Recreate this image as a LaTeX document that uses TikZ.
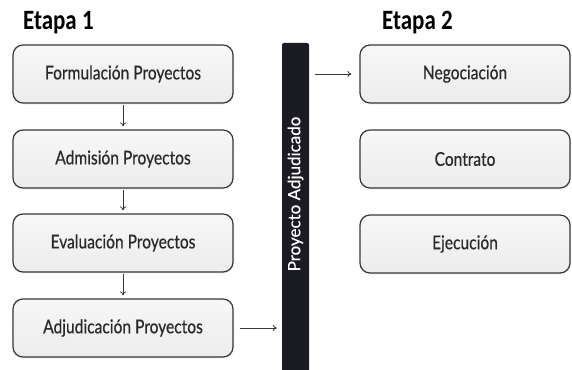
\documentclass[tikz,border=0pt]{standalone}
\usepackage{fontspec}
\setmainfont{Lato}
\newfontfamily\boxfont[FakeStretch=0.82,FakeBold=0.5]{Lato}
\newfontfamily\barfont[FakeBold=0.3]{Lato}
\newfontfamily\etapafont[FakeStretch=0.82]{Carlito}
\usetikzlibrary{arrows.meta,shadows}
\definecolor{boxline}{HTML}{383838}
\definecolor{boxfill}{HTML}{ECECED}
\definecolor{barfill}{HTML}{1B1B24}
\definecolor{txt}{HTML}{2A2A2A}
\tikzset{
  stagebox/.style={draw=boxline,line width=1.2pt,rounded corners=10pt,
    top color=white!60!boxfill,bottom color=boxfill,
    drop shadow={opacity=0.12,shadow xshift=1pt,shadow yshift=-1.5pt},
    minimum height=58pt,text=txt,font=\boxfont\fontsize{19}{22}\selectfont},
  link/.style={draw=boxline,line width=0.8pt,-{To[length=4pt,width=6pt]}},
  etapa/.style={font=\etapafont\bfseries\fontsize{28}{32}\selectfont,text=black,
    inner sep=0pt,anchor=base west}
}
\begin{document}
\begin{tikzpicture}[x=1pt,y=-1pt]
  \useasboundingbox (0,0) rectangle (572,369);
  \fill[white] (0,0) rectangle (572,369);
  \node[etapa] (e1) at (23,30) {Etapa 1};
  \node[etapa] (e2) at (382,30) {Etapa 2};

  \node[stagebox,minimum width=220pt] (form) at (123,74) {Formulación Proyectos};
  \node[stagebox,minimum width=220pt] (adm) at (123,159) {Admisión Proyectos};
  \node[stagebox,minimum width=220pt] (eval) at (123,243) {Evaluación Proyectos};
  \node[stagebox,minimum width=220pt] (adj) at (123,328) {Adjudicación Proyectos};

  \node[stagebox,minimum width=210pt] (neg) at (465,74) {Negociación};
  \node[stagebox,minimum width=210pt] (con) at (465,159) {Contrato};
  \node[stagebox,minimum width=210pt] (eje) at (465,244) {Ejecución};

  \node[fill=barfill,rounded corners=2pt,minimum width=27pt,minimum height=330pt,
    inner sep=0pt] (bar) at (295.5,208) {};
  \node[rotate=90,text=white,font=\barfont\fontsize{17}{20}\selectfont] (bartxt) at (295.5,194) {Proyecto Adjudicado};

  \draw[link,shorten <=1pt,shorten >=3pt] (form) -- (adm);
  \draw[link,shorten <=1pt,shorten >=3pt] (adm) -- (eval);
  \draw[link,shorten <=1pt,shorten >=3pt] (eval) -- (adj);
  \draw[link,shorten <=6pt,shorten >=5pt] (adj.east) -- (adj.east -| bar.west);
  \draw[link,shorten <=6pt,shorten >=8pt] (neg.west -| bar.east) -- (neg.west);
\end{tikzpicture}
\end{document}
